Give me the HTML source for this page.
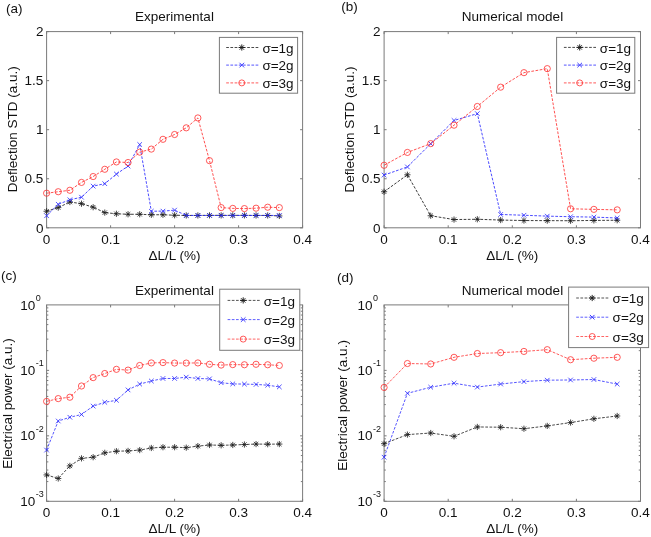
<!DOCTYPE html>
<html><head><meta charset="utf-8"><style>
html,body{margin:0;padding:0;background:#fff;}
body{width:651px;height:537px;overflow:hidden;}
svg{display:block;filter:blur(0.45px);}
</style></head><body>
<svg width="651" height="537" viewBox="0 0 651 537" font-family='"Liberation Sans", sans-serif' fill="#111">
<rect width="651" height="537" fill="#fff"/>
<path d="M46.60 227.79999999999998V225.29999999999998M46.60 31.6V34.1M110.60 227.79999999999998V225.29999999999998M110.60 31.6V34.1M174.60 227.79999999999998V225.29999999999998M174.60 31.6V34.1M238.60 227.79999999999998V225.29999999999998M238.60 31.6V34.1M302.60 227.79999999999998V225.29999999999998M302.60 31.6V34.1M46.6 227.80H49.1M302.6 227.80H300.1M46.6 178.75H49.1M302.6 178.75H300.1M46.6 129.70H49.1M302.6 129.70H300.1M46.6 80.65H49.1M302.6 80.65H300.1M46.6 31.60H49.1M302.6 31.60H300.1" stroke="#7a7a7a" stroke-width="1" fill="none"/>
<rect x="46.6" y="31.6" width="256.00" height="196.20" stroke="#7a7a7a" stroke-width="1" fill="none"/>
<path d="M46.60 211.23L58.24 207.61L69.87 202.02L81.51 203.69L93.15 207.21L104.78 212.60L116.42 213.78L128.05 214.27L139.69 214.27L151.33 214.76L162.96 214.76L174.60 215.25L186.24 215.45L197.87 215.45L209.51 215.35L221.15 215.35L232.78 215.35L244.42 215.35L256.05 215.45L267.69 215.45L279.33 215.94" stroke="#1a1a1a" stroke-width="0.85" stroke-dasharray="2.7 1.5" fill="none"/>
<path d="M43.50 211.23H49.70M46.60 208.13V214.33M44.41 209.04L48.79 213.42M44.41 213.42L48.79 209.04M55.14 207.61H61.34M58.24 204.51V210.71M56.04 205.41L60.43 209.80M56.04 209.80L60.43 205.41M66.77 202.02H72.97M69.87 198.92V205.12M67.68 199.83L72.06 204.21M67.68 204.21L72.06 199.83M78.41 203.69H84.61M81.51 200.59V206.79M79.32 201.49L83.70 205.88M79.32 205.88L83.70 201.49M90.05 207.21H96.25M93.15 204.11V210.31M90.95 205.02L95.34 209.41M90.95 209.41L95.34 205.02M101.68 212.60H107.88M104.78 209.50V215.70M102.59 210.41L106.97 214.80M102.59 214.80L106.97 210.41M113.32 213.78H119.52M116.42 210.68V216.88M114.23 211.59L118.61 215.97M114.23 215.97L118.61 211.59M124.95 214.27H131.15M128.05 211.17V217.37M125.86 212.08L130.25 216.46M125.86 216.46L130.25 212.08M136.59 214.27H142.79M139.69 211.17V217.37M137.50 212.08L141.88 216.46M137.50 216.46L141.88 212.08M148.23 214.76H154.43M151.33 211.66V217.86M149.14 212.57L153.52 216.95M149.14 216.95L153.52 212.57M159.86 214.76H166.06M162.96 211.66V217.86M160.77 212.57L165.16 216.95M160.77 216.95L165.16 212.57M171.50 215.25H177.70M174.60 212.15V218.35M172.41 213.06L176.79 217.44M172.41 217.44L176.79 213.06M183.14 215.45H189.34M186.24 212.35V218.55M184.04 213.25L188.43 217.64M184.04 217.64L188.43 213.25M194.77 215.45H200.97M197.87 212.35V218.55M195.68 213.25L200.06 217.64M195.68 217.64L200.06 213.25M206.41 215.35H212.61M209.51 212.25V218.45M207.32 213.16L211.70 217.54M207.32 217.54L211.70 213.16M218.05 215.35H224.25M221.15 212.25V218.45M218.95 213.16L223.34 217.54M218.95 217.54L223.34 213.16M229.68 215.35H235.88M232.78 212.25V218.45M230.59 213.16L234.97 217.54M230.59 217.54L234.97 213.16M241.32 215.35H247.52M244.42 212.25V218.45M242.23 213.16L246.61 217.54M242.23 217.54L246.61 213.16M252.95 215.45H259.15M256.05 212.35V218.55M253.86 213.25L258.25 217.64M253.86 217.64L258.25 213.25M264.59 215.45H270.79M267.69 212.35V218.55M265.50 213.25L269.88 217.64M265.50 217.64L269.88 213.25M276.23 215.94H282.43M279.33 212.84V219.04M277.14 213.74L281.52 218.13M277.14 218.13L281.52 213.74" stroke="#1a1a1a" stroke-width="0.8" fill="none"/>
<path d="M46.60 215.74L58.24 204.27L69.87 199.77L81.51 197.22L93.15 186.14L104.78 183.69L116.42 174.09L128.05 166.05L139.69 144.49L151.33 211.23L162.96 211.13L174.60 210.15L186.24 215.45L197.87 215.45L209.51 215.45L221.15 215.45L232.78 215.45L244.42 215.45L256.05 215.45L267.69 215.45L279.33 215.45" stroke="#2a2aff" stroke-width="0.85" stroke-dasharray="2.7 1.5" fill="none"/>
<path d="M44.30 213.44L48.90 218.04M44.30 218.04L48.90 213.44M55.94 201.97L60.54 206.57M55.94 206.57L60.54 201.97M67.57 197.47L72.17 202.07M67.57 202.07L72.17 197.47M79.21 194.92L83.81 199.52M79.21 199.52L83.81 194.92M90.85 183.84L95.45 188.44M90.85 188.44L95.45 183.84M102.48 181.39L107.08 185.99M102.48 185.99L107.08 181.39M114.12 171.79L118.72 176.39M114.12 176.39L118.72 171.79M125.75 163.75L130.35 168.35M125.75 168.35L130.35 163.75M137.39 142.19L141.99 146.79M137.39 146.79L141.99 142.19M149.03 208.93L153.63 213.53M149.03 213.53L153.63 208.93M160.66 208.83L165.26 213.43M160.66 213.43L165.26 208.83M172.30 207.85L176.90 212.45M172.30 212.45L176.90 207.85M183.94 213.15L188.54 217.75M183.94 217.75L188.54 213.15M195.57 213.15L200.17 217.75M195.57 217.75L200.17 213.15M207.21 213.15L211.81 217.75M207.21 217.75L211.81 213.15M218.85 213.15L223.45 217.75M218.85 217.75L223.45 213.15M230.48 213.15L235.08 217.75M230.48 217.75L235.08 213.15M242.12 213.15L246.72 217.75M242.12 217.75L246.72 213.15M253.75 213.15L258.35 217.75M253.75 217.75L258.35 213.15M265.39 213.15L269.99 217.75M265.39 217.75L269.99 213.15M277.03 213.15L281.63 217.75M277.03 217.75L281.63 213.15" stroke="#2a2aff" stroke-width="0.8" fill="none"/>
<path d="M46.60 193.20L58.24 191.73L69.87 190.26L81.51 182.42L93.15 176.54L104.78 169.29L116.42 161.94L128.05 162.53L139.69 152.14L151.33 149.10L162.96 139.30L174.60 134.50L186.24 127.83L197.87 117.94L209.51 160.66L221.15 207.61L232.78 208.39L244.42 208.59L256.05 208.19L267.69 207.21L279.33 207.61" stroke="#ff3030" stroke-width="0.85" stroke-dasharray="2.7 1.5" fill="none"/>
<circle cx="46.60" cy="193.20" r="3.1" stroke="#ff3030" stroke-width="0.8" fill="none"/>
<circle cx="58.24" cy="191.73" r="3.1" stroke="#ff3030" stroke-width="0.8" fill="none"/>
<circle cx="69.87" cy="190.26" r="3.1" stroke="#ff3030" stroke-width="0.8" fill="none"/>
<circle cx="81.51" cy="182.42" r="3.1" stroke="#ff3030" stroke-width="0.8" fill="none"/>
<circle cx="93.15" cy="176.54" r="3.1" stroke="#ff3030" stroke-width="0.8" fill="none"/>
<circle cx="104.78" cy="169.29" r="3.1" stroke="#ff3030" stroke-width="0.8" fill="none"/>
<circle cx="116.42" cy="161.94" r="3.1" stroke="#ff3030" stroke-width="0.8" fill="none"/>
<circle cx="128.05" cy="162.53" r="3.1" stroke="#ff3030" stroke-width="0.8" fill="none"/>
<circle cx="139.69" cy="152.14" r="3.1" stroke="#ff3030" stroke-width="0.8" fill="none"/>
<circle cx="151.33" cy="149.10" r="3.1" stroke="#ff3030" stroke-width="0.8" fill="none"/>
<circle cx="162.96" cy="139.30" r="3.1" stroke="#ff3030" stroke-width="0.8" fill="none"/>
<circle cx="174.60" cy="134.50" r="3.1" stroke="#ff3030" stroke-width="0.8" fill="none"/>
<circle cx="186.24" cy="127.83" r="3.1" stroke="#ff3030" stroke-width="0.8" fill="none"/>
<circle cx="197.87" cy="117.94" r="3.1" stroke="#ff3030" stroke-width="0.8" fill="none"/>
<circle cx="209.51" cy="160.66" r="3.1" stroke="#ff3030" stroke-width="0.8" fill="none"/>
<circle cx="221.15" cy="207.61" r="3.1" stroke="#ff3030" stroke-width="0.8" fill="none"/>
<circle cx="232.78" cy="208.39" r="3.1" stroke="#ff3030" stroke-width="0.8" fill="none"/>
<circle cx="244.42" cy="208.59" r="3.1" stroke="#ff3030" stroke-width="0.8" fill="none"/>
<circle cx="256.05" cy="208.19" r="3.1" stroke="#ff3030" stroke-width="0.8" fill="none"/>
<circle cx="267.69" cy="207.21" r="3.1" stroke="#ff3030" stroke-width="0.8" fill="none"/>
<circle cx="279.33" cy="207.61" r="3.1" stroke="#ff3030" stroke-width="0.8" fill="none"/>
<path d="M384.10 227.79999999999998V225.29999999999998M384.10 31.6V34.1M448.20 227.79999999999998V225.29999999999998M448.20 31.6V34.1M512.30 227.79999999999998V225.29999999999998M512.30 31.6V34.1M576.40 227.79999999999998V225.29999999999998M576.40 31.6V34.1M640.50 227.79999999999998V225.29999999999998M640.50 31.6V34.1M384.1 227.80H386.6M640.5 227.80H638.0M384.1 178.75H386.6M640.5 178.75H638.0M384.1 129.70H386.6M640.5 129.70H638.0M384.1 80.65H386.6M640.5 80.65H638.0M384.1 31.60H386.6M640.5 31.60H638.0" stroke="#7a7a7a" stroke-width="1" fill="none"/>
<rect x="384.1" y="31.6" width="256.40" height="196.20" stroke="#7a7a7a" stroke-width="1" fill="none"/>
<path d="M384.10 191.73L407.41 174.78L430.72 215.74L454.03 219.56L477.34 219.27L500.65 220.05L523.95 220.54L547.26 220.64L570.57 220.74L593.88 220.44L617.19 220.25" stroke="#1a1a1a" stroke-width="0.85" stroke-dasharray="2.7 1.5" fill="none"/>
<path d="M381.00 191.73H387.20M384.10 188.63V194.83M381.91 189.54L386.29 193.92M381.91 193.92L386.29 189.54M404.31 174.78H410.51M407.41 171.68V177.88M405.22 172.58L409.60 176.97M405.22 176.97L409.60 172.58M427.62 215.74H433.82M430.72 212.64V218.84M428.53 213.55L432.91 217.93M428.53 217.93L432.91 213.55M450.93 219.56H457.13M454.03 216.46V222.66M451.84 217.37L456.22 221.75M451.84 221.75L456.22 217.37M474.24 219.27H480.44M477.34 216.17V222.37M475.14 217.08L479.53 221.46M475.14 221.46L479.53 217.08M497.55 220.05H503.75M500.65 216.95V223.15M498.45 217.86L502.84 222.24M498.45 222.24L502.84 217.86M520.85 220.54H527.05M523.95 217.44V223.64M521.76 218.35L526.15 222.73M521.76 222.73L526.15 218.35M544.16 220.64H550.36M547.26 217.54V223.74M545.07 218.45L549.46 222.83M545.07 222.83L549.46 218.45M567.47 220.74H573.67M570.57 217.64V223.84M568.38 218.55L572.76 222.93M568.38 222.93L572.76 218.55M590.78 220.44H596.98M593.88 217.34V223.54M591.69 218.25L596.07 222.64M591.69 222.64L596.07 218.25M614.09 220.25H620.29M617.19 217.15V223.35M615.00 218.06L619.38 222.44M615.00 222.44L619.38 218.06" stroke="#1a1a1a" stroke-width="0.8" fill="none"/>
<path d="M384.10 175.07L407.41 166.94L430.72 143.71L454.03 120.48L477.34 113.62L500.65 214.47L523.95 215.25L547.26 216.13L570.57 216.72L593.88 217.11L617.19 217.99" stroke="#2a2aff" stroke-width="0.85" stroke-dasharray="2.7 1.5" fill="none"/>
<path d="M381.80 172.77L386.40 177.37M381.80 177.37L386.40 172.77M405.11 164.64L409.71 169.24M405.11 169.24L409.71 164.64M428.42 141.41L433.02 146.01M428.42 146.01L433.02 141.41M451.73 118.18L456.33 122.78M451.73 122.78L456.33 118.18M475.04 111.32L479.64 115.92M475.04 115.92L479.64 111.32M498.35 212.17L502.95 216.77M498.35 216.77L502.95 212.17M521.65 212.95L526.25 217.55M521.65 217.55L526.25 212.95M544.96 213.83L549.56 218.43M544.96 218.43L549.56 213.83M568.27 214.42L572.87 219.02M568.27 219.02L572.87 214.42M591.58 214.81L596.18 219.41M591.58 219.41L596.18 214.81M614.89 215.69L619.49 220.29M614.89 220.29L619.49 215.69" stroke="#2a2aff" stroke-width="0.8" fill="none"/>
<path d="M384.10 165.27L407.41 152.43L430.72 143.61L454.03 125.19L477.34 106.47L500.65 87.16L523.95 72.66L547.26 68.64L570.57 208.78L593.88 209.37L617.19 209.86" stroke="#ff3030" stroke-width="0.85" stroke-dasharray="2.7 1.5" fill="none"/>
<circle cx="384.10" cy="165.27" r="3.1" stroke="#ff3030" stroke-width="0.8" fill="none"/>
<circle cx="407.41" cy="152.43" r="3.1" stroke="#ff3030" stroke-width="0.8" fill="none"/>
<circle cx="430.72" cy="143.61" r="3.1" stroke="#ff3030" stroke-width="0.8" fill="none"/>
<circle cx="454.03" cy="125.19" r="3.1" stroke="#ff3030" stroke-width="0.8" fill="none"/>
<circle cx="477.34" cy="106.47" r="3.1" stroke="#ff3030" stroke-width="0.8" fill="none"/>
<circle cx="500.65" cy="87.16" r="3.1" stroke="#ff3030" stroke-width="0.8" fill="none"/>
<circle cx="523.95" cy="72.66" r="3.1" stroke="#ff3030" stroke-width="0.8" fill="none"/>
<circle cx="547.26" cy="68.64" r="3.1" stroke="#ff3030" stroke-width="0.8" fill="none"/>
<circle cx="570.57" cy="208.78" r="3.1" stroke="#ff3030" stroke-width="0.8" fill="none"/>
<circle cx="593.88" cy="209.37" r="3.1" stroke="#ff3030" stroke-width="0.8" fill="none"/>
<circle cx="617.19" cy="209.86" r="3.1" stroke="#ff3030" stroke-width="0.8" fill="none"/>
<path d="M46.60 501.29999999999995V498.79999999999995M46.60 304.9V307.4M110.60 501.29999999999995V498.79999999999995M110.60 304.9V307.4M174.60 501.29999999999995V498.79999999999995M174.60 304.9V307.4M238.60 501.29999999999995V498.79999999999995M238.60 304.9V307.4M302.60 501.29999999999995V498.79999999999995M302.60 304.9V307.4M46.6 501.30H49.1M302.6 501.30H300.1M46.6 481.59H48.35M302.6 481.59H300.85M46.6 470.06H48.35M302.6 470.06H300.85M46.6 461.89H48.35M302.6 461.89H300.85M46.6 455.54H48.35M302.6 455.54H300.85M46.6 450.36H48.35M302.6 450.36H300.85M46.6 445.97H48.35M302.6 445.97H300.85M46.6 442.18H48.35M302.6 442.18H300.85M46.6 438.83H48.35M302.6 438.83H300.85M46.6 435.83H49.1M302.6 435.83H300.1M46.6 416.13H48.35M302.6 416.13H300.85M46.6 404.60H48.35M302.6 404.60H300.85M46.6 396.42H48.35M302.6 396.42H300.85M46.6 390.07H48.35M302.6 390.07H300.85M46.6 384.89H48.35M302.6 384.89H300.85M46.6 380.51H48.35M302.6 380.51H300.85M46.6 376.71H48.35M302.6 376.71H300.85M46.6 373.36H48.35M302.6 373.36H300.85M46.6 370.37H49.1M302.6 370.37H300.1M46.6 350.66H48.35M302.6 350.66H300.85M46.6 339.13H48.35M302.6 339.13H300.85M46.6 330.95H48.35M302.6 330.95H300.85M46.6 324.61H48.35M302.6 324.61H300.85M46.6 319.42H48.35M302.6 319.42H300.85M46.6 315.04H48.35M302.6 315.04H300.85M46.6 311.24H48.35M302.6 311.24H300.85M46.6 307.90H48.35M302.6 307.90H300.85" stroke="#7a7a7a" stroke-width="1" fill="none"/>
<rect x="46.6" y="304.9" width="256.00" height="196.40" stroke="#7a7a7a" stroke-width="1" fill="none"/>
<path d="M46.60 474.91L58.24 478.50L69.87 465.89L81.51 458.38L93.15 457.20L104.78 452.83L116.42 451.19L128.05 450.93L139.69 450.08L151.33 447.99L162.96 447.21L174.60 447.21L186.24 447.66L197.87 446.10L209.51 444.99L221.15 445.31L232.78 444.99L244.42 444.53L256.05 444.07L267.69 444.20L279.33 444.07" stroke="#1a1a1a" stroke-width="0.8" stroke-dasharray="2.7 1.5" fill="none"/>
<path d="M43.50 474.91H49.70M46.60 471.81V478.01M44.41 472.72L48.79 477.10M44.41 477.10L48.79 472.72M55.14 478.50H61.34M58.24 475.40V481.60M56.04 476.31L60.43 480.69M56.04 480.69L60.43 476.31M66.77 465.89H72.97M69.87 462.79V468.99M67.68 463.70L72.06 468.08M67.68 468.08L72.06 463.70M78.41 458.38H84.61M81.51 455.28V461.48M79.32 456.19L83.70 460.57M79.32 460.57L83.70 456.19M90.05 457.20H96.25M93.15 454.10V460.30M90.95 455.01L95.34 459.40M90.95 459.40L95.34 455.01M101.68 452.83H107.88M104.78 449.73V455.93M102.59 450.63L106.97 455.02M102.59 455.02L106.97 450.63M113.32 451.19H119.52M116.42 448.09V454.29M114.23 449.00L118.61 453.38M114.23 453.38L118.61 449.00M124.95 450.93H131.15M128.05 447.83V454.03M125.86 448.74L130.25 453.12M125.86 453.12L130.25 448.74M136.59 450.08H142.79M139.69 446.98V453.18M137.50 447.89L141.88 452.27M137.50 452.27L141.88 447.89M148.23 447.99H154.43M151.33 444.89V451.09M149.14 445.80L153.52 450.18M149.14 450.18L153.52 445.80M159.86 447.21H166.06M162.96 444.11V450.31M160.77 445.02L165.16 449.40M160.77 449.40L165.16 445.02M171.50 447.21H177.70M174.60 444.11V450.31M172.41 445.02L176.79 449.40M172.41 449.40L176.79 445.02M183.14 447.66H189.34M186.24 444.56V450.76M184.04 445.47L188.43 449.86M184.04 449.86L188.43 445.47M194.77 446.10H200.97M197.87 443.00V449.20M195.68 443.90L200.06 448.29M195.68 448.29L200.06 443.90M206.41 444.99H212.61M209.51 441.89V448.09M207.32 442.79L211.70 447.18M207.32 447.18L211.70 442.79M218.05 445.31H224.25M221.15 442.21V448.41M218.95 443.12L223.34 447.50M218.95 447.50L223.34 443.12M229.68 444.99H235.88M232.78 441.89V448.09M230.59 442.79L234.97 447.18M230.59 447.18L234.97 442.79M241.32 444.53H247.52M244.42 441.43V447.63M242.23 442.34L246.61 446.72M242.23 446.72L246.61 442.34M252.95 444.07H259.15M256.05 440.97V447.17M253.86 441.88L258.25 446.26M253.86 446.26L258.25 441.88M264.59 444.20H270.79M267.69 441.10V447.30M265.50 442.01L269.88 446.39M265.50 446.39L269.88 442.01M276.23 444.07H282.43M279.33 440.97V447.17M277.14 441.88L281.52 446.26M277.14 446.26L281.52 441.88" stroke="#1a1a1a" stroke-width="0.8" fill="none"/>
<path d="M46.60 450.08L58.24 421.01L69.87 417.28L81.51 414.48L93.15 406.11L104.78 402.32L116.42 400.30L128.05 389.91L139.69 384.10L151.33 381.02L162.96 378.48L174.60 378.48L186.24 377.17L197.87 378.48L209.51 378.87L221.15 382.72L232.78 383.90L244.42 384.10L256.05 384.42L267.69 385.21L279.33 386.90" stroke="#2a2aff" stroke-width="0.8" stroke-dasharray="2.7 1.5" fill="none"/>
<path d="M44.30 447.78L48.90 452.38M44.30 452.38L48.90 447.78M55.94 418.71L60.54 423.31M55.94 423.31L60.54 418.71M67.57 414.98L72.17 419.58M67.57 419.58L72.17 414.98M79.21 412.18L83.81 416.78M79.21 416.78L83.81 412.18M90.85 403.81L95.45 408.41M90.85 408.41L95.45 403.81M102.48 400.02L107.08 404.62M102.48 404.62L107.08 400.02M114.12 398.00L118.72 402.60M114.12 402.60L118.72 398.00M125.75 387.61L130.35 392.21M125.75 392.21L130.35 387.61M137.39 381.80L141.99 386.40M137.39 386.40L141.99 381.80M149.03 378.72L153.63 383.32M149.03 383.32L153.63 378.72M160.66 376.18L165.26 380.78M160.66 380.78L165.26 376.18M172.30 376.18L176.90 380.78M172.30 380.78L176.90 376.18M183.94 374.87L188.54 379.47M183.94 379.47L188.54 374.87M195.57 376.18L200.17 380.78M195.57 380.78L200.17 376.18M207.21 376.57L211.81 381.17M207.21 381.17L211.81 376.57M218.85 380.42L223.45 385.02M218.85 385.02L223.45 380.42M230.48 381.60L235.08 386.20M230.48 386.20L235.08 381.60M242.12 381.80L246.72 386.40M242.12 386.40L246.72 381.80M253.75 382.12L258.35 386.72M253.75 386.72L258.35 382.12M265.39 382.91L269.99 387.51M265.39 387.51L269.99 382.91M277.03 384.60L281.63 389.20M277.03 389.20L281.63 384.60" stroke="#2a2aff" stroke-width="0.8" fill="none"/>
<path d="M46.60 401.41L58.24 398.60L69.87 397.23L81.51 385.99L93.15 377.63L104.78 373.51L116.42 369.33L128.05 370.11L139.69 365.48L151.33 362.93L162.96 362.60L174.60 363.06L186.24 363.06L197.87 362.93L209.51 364.30L221.15 365.08L232.78 364.63L244.42 364.76L256.05 364.30L267.69 364.76L279.33 365.48" stroke="#ff3030" stroke-width="0.8" stroke-dasharray="2.7 1.5" fill="none"/>
<circle cx="46.60" cy="401.41" r="3.1" stroke="#ff3030" stroke-width="0.8" fill="none"/>
<circle cx="58.24" cy="398.60" r="3.1" stroke="#ff3030" stroke-width="0.8" fill="none"/>
<circle cx="69.87" cy="397.23" r="3.1" stroke="#ff3030" stroke-width="0.8" fill="none"/>
<circle cx="81.51" cy="385.99" r="3.1" stroke="#ff3030" stroke-width="0.8" fill="none"/>
<circle cx="93.15" cy="377.63" r="3.1" stroke="#ff3030" stroke-width="0.8" fill="none"/>
<circle cx="104.78" cy="373.51" r="3.1" stroke="#ff3030" stroke-width="0.8" fill="none"/>
<circle cx="116.42" cy="369.33" r="3.1" stroke="#ff3030" stroke-width="0.8" fill="none"/>
<circle cx="128.05" cy="370.11" r="3.1" stroke="#ff3030" stroke-width="0.8" fill="none"/>
<circle cx="139.69" cy="365.48" r="3.1" stroke="#ff3030" stroke-width="0.8" fill="none"/>
<circle cx="151.33" cy="362.93" r="3.1" stroke="#ff3030" stroke-width="0.8" fill="none"/>
<circle cx="162.96" cy="362.60" r="3.1" stroke="#ff3030" stroke-width="0.8" fill="none"/>
<circle cx="174.60" cy="363.06" r="3.1" stroke="#ff3030" stroke-width="0.8" fill="none"/>
<circle cx="186.24" cy="363.06" r="3.1" stroke="#ff3030" stroke-width="0.8" fill="none"/>
<circle cx="197.87" cy="362.93" r="3.1" stroke="#ff3030" stroke-width="0.8" fill="none"/>
<circle cx="209.51" cy="364.30" r="3.1" stroke="#ff3030" stroke-width="0.8" fill="none"/>
<circle cx="221.15" cy="365.08" r="3.1" stroke="#ff3030" stroke-width="0.8" fill="none"/>
<circle cx="232.78" cy="364.63" r="3.1" stroke="#ff3030" stroke-width="0.8" fill="none"/>
<circle cx="244.42" cy="364.76" r="3.1" stroke="#ff3030" stroke-width="0.8" fill="none"/>
<circle cx="256.05" cy="364.30" r="3.1" stroke="#ff3030" stroke-width="0.8" fill="none"/>
<circle cx="267.69" cy="364.76" r="3.1" stroke="#ff3030" stroke-width="0.8" fill="none"/>
<circle cx="279.33" cy="365.48" r="3.1" stroke="#ff3030" stroke-width="0.8" fill="none"/>
<path d="M384.10 501.29999999999995V498.79999999999995M384.10 304.9V307.4M448.20 501.29999999999995V498.79999999999995M448.20 304.9V307.4M512.30 501.29999999999995V498.79999999999995M512.30 304.9V307.4M576.40 501.29999999999995V498.79999999999995M576.40 304.9V307.4M640.50 501.29999999999995V498.79999999999995M640.50 304.9V307.4M384.1 501.30H386.6M640.5 501.30H638.0M384.1 481.59H385.85M640.5 481.59H638.75M384.1 470.06H385.85M640.5 470.06H638.75M384.1 461.89H385.85M640.5 461.89H638.75M384.1 455.54H385.85M640.5 455.54H638.75M384.1 450.36H385.85M640.5 450.36H638.75M384.1 445.97H385.85M640.5 445.97H638.75M384.1 442.18H385.85M640.5 442.18H638.75M384.1 438.83H385.85M640.5 438.83H638.75M384.1 435.83H386.6M640.5 435.83H638.0M384.1 416.13H385.85M640.5 416.13H638.75M384.1 404.60H385.85M640.5 404.60H638.75M384.1 396.42H385.85M640.5 396.42H638.75M384.1 390.07H385.85M640.5 390.07H638.75M384.1 384.89H385.85M640.5 384.89H638.75M384.1 380.51H385.85M640.5 380.51H638.75M384.1 376.71H385.85M640.5 376.71H638.75M384.1 373.36H385.85M640.5 373.36H638.75M384.1 370.37H386.6M640.5 370.37H638.0M384.1 350.66H385.85M640.5 350.66H638.75M384.1 339.13H385.85M640.5 339.13H638.75M384.1 330.95H385.85M640.5 330.95H638.75M384.1 324.61H385.85M640.5 324.61H638.75M384.1 319.42H385.85M640.5 319.42H638.75M384.1 315.04H385.85M640.5 315.04H638.75M384.1 311.24H385.85M640.5 311.24H638.75M384.1 307.90H385.85M640.5 307.90H638.75" stroke="#7a7a7a" stroke-width="1" fill="none"/>
<rect x="384.1" y="304.9" width="256.40" height="196.40" stroke="#7a7a7a" stroke-width="1" fill="none"/>
<path d="M384.10 443.68L407.41 434.60L430.72 433.03L454.03 436.30L477.34 426.95L500.65 427.22L523.95 428.72L547.26 425.91L570.57 422.58L593.88 418.79L617.19 415.98" stroke="#1a1a1a" stroke-width="0.8" stroke-dasharray="2.7 1.5" fill="none"/>
<path d="M381.00 443.68H387.20M384.10 440.58V446.78M381.91 441.49L386.29 445.87M381.91 445.87L386.29 441.49M404.31 434.60H410.51M407.41 431.50V437.70M405.22 432.41L409.60 436.79M405.22 436.79L409.60 432.41M427.62 433.03H433.82M430.72 429.93V436.13M428.53 430.84L432.91 435.22M428.53 435.22L432.91 430.84M450.93 436.30H457.13M454.03 433.20V439.40M451.84 434.10L456.22 438.49M451.84 438.49L456.22 434.10M474.24 426.95H480.44M477.34 423.85V430.05M475.14 424.76L479.53 429.15M475.14 429.15L479.53 424.76M497.55 427.22H503.75M500.65 424.12V430.32M498.45 425.02L502.84 429.41M498.45 429.41L502.84 425.02M520.85 428.72H527.05M523.95 425.62V431.82M521.76 426.53L526.15 430.91M521.76 430.91L526.15 426.53M544.16 425.91H550.36M547.26 422.81V429.01M545.07 423.72L549.46 428.10M545.07 428.10L549.46 423.72M567.47 422.58H573.67M570.57 419.48V425.68M568.38 420.38L572.76 424.77M568.38 424.77L572.76 420.38M590.78 418.79H596.98M593.88 415.69V421.89M591.69 416.60L596.07 420.98M591.69 420.98L596.07 416.60M614.09 415.98H620.29M617.19 412.88V419.08M615.00 413.79L619.38 418.17M615.00 418.17L619.38 413.79" stroke="#1a1a1a" stroke-width="0.8" fill="none"/>
<path d="M384.10 457.20L407.41 393.31L430.72 387.23L454.03 383.18L477.34 387.10L500.65 384.03L523.95 381.61L547.26 380.18L570.57 379.98L593.88 379.52L617.19 384.10" stroke="#2a2aff" stroke-width="0.8" stroke-dasharray="2.7 1.5" fill="none"/>
<path d="M381.80 454.90L386.40 459.50M381.80 459.50L386.40 454.90M405.11 391.01L409.71 395.61M405.11 395.61L409.71 391.01M428.42 384.93L433.02 389.53M428.42 389.53L433.02 384.93M451.73 380.88L456.33 385.48M451.73 385.48L456.33 380.88M475.04 384.80L479.64 389.40M475.04 389.40L479.64 384.80M498.35 381.73L502.95 386.33M498.35 386.33L502.95 381.73M521.65 379.31L526.25 383.91M521.65 383.91L526.25 379.31M544.96 377.88L549.56 382.48M544.96 382.48L549.56 377.88M568.27 377.68L572.87 382.28M568.27 382.28L572.87 377.68M591.58 377.22L596.18 381.82M591.58 381.82L596.18 377.22M614.89 381.80L619.49 386.40M614.89 386.40L619.49 381.80" stroke="#2a2aff" stroke-width="0.8" fill="none"/>
<path d="M384.10 387.43L407.41 363.52L430.72 363.97L454.03 357.31L477.34 353.52L500.65 352.67L523.95 351.43L547.26 349.67L570.57 359.73L593.88 358.22L617.19 357.31" stroke="#ff3030" stroke-width="0.8" stroke-dasharray="2.7 1.5" fill="none"/>
<circle cx="384.10" cy="387.43" r="3.1" stroke="#ff3030" stroke-width="0.8" fill="none"/>
<circle cx="407.41" cy="363.52" r="3.1" stroke="#ff3030" stroke-width="0.8" fill="none"/>
<circle cx="430.72" cy="363.97" r="3.1" stroke="#ff3030" stroke-width="0.8" fill="none"/>
<circle cx="454.03" cy="357.31" r="3.1" stroke="#ff3030" stroke-width="0.8" fill="none"/>
<circle cx="477.34" cy="353.52" r="3.1" stroke="#ff3030" stroke-width="0.8" fill="none"/>
<circle cx="500.65" cy="352.67" r="3.1" stroke="#ff3030" stroke-width="0.8" fill="none"/>
<circle cx="523.95" cy="351.43" r="3.1" stroke="#ff3030" stroke-width="0.8" fill="none"/>
<circle cx="547.26" cy="349.67" r="3.1" stroke="#ff3030" stroke-width="0.8" fill="none"/>
<circle cx="570.57" cy="359.73" r="3.1" stroke="#ff3030" stroke-width="0.8" fill="none"/>
<circle cx="593.88" cy="358.22" r="3.1" stroke="#ff3030" stroke-width="0.8" fill="none"/>
<circle cx="617.19" cy="357.31" r="3.1" stroke="#ff3030" stroke-width="0.8" fill="none"/>
<text x="43.4" y="232.5" font-size="13.5" text-anchor="end" >0</text>
<text x="43.4" y="183.45" font-size="13.5" text-anchor="end" >0.5</text>
<text x="43.4" y="134.4" font-size="13.5" text-anchor="end" >1</text>
<text x="43.4" y="85.35" font-size="13.5" text-anchor="end" >1.5</text>
<text x="43.4" y="36.3" font-size="13.5" text-anchor="end" >2</text>
<text x="380.5" y="232.5" font-size="13.5" text-anchor="end" >0</text>
<text x="380.5" y="183.45" font-size="13.5" text-anchor="end" >0.5</text>
<text x="380.5" y="134.4" font-size="13.5" text-anchor="end" >1</text>
<text x="380.5" y="85.35" font-size="13.5" text-anchor="end" >1.5</text>
<text x="380.5" y="36.3" font-size="13.5" text-anchor="end" >2</text>
<text x="35.3" y="505.9" font-size="13.5" text-anchor="end" >10</text>
<text x="35.699999999999996" y="497.1" font-size="9" text-anchor="start" >-3</text>
<text x="35.3" y="440.43" font-size="13.5" text-anchor="end" >10</text>
<text x="35.699999999999996" y="431.63" font-size="9" text-anchor="start" >-2</text>
<text x="35.3" y="374.97" font-size="13.5" text-anchor="end" >10</text>
<text x="35.699999999999996" y="366.17" font-size="9" text-anchor="start" >-1</text>
<text x="35.3" y="309.5" font-size="13.5" text-anchor="end" >10</text>
<text x="35.699999999999996" y="300.7" font-size="9" text-anchor="start" >0</text>
<text x="372.6" y="505.9" font-size="13.5" text-anchor="end" >10</text>
<text x="373.0" y="497.1" font-size="9" text-anchor="start" >-3</text>
<text x="372.6" y="440.43" font-size="13.5" text-anchor="end" >10</text>
<text x="373.0" y="431.63" font-size="9" text-anchor="start" >-2</text>
<text x="372.6" y="374.97" font-size="13.5" text-anchor="end" >10</text>
<text x="373.0" y="366.17" font-size="9" text-anchor="start" >-1</text>
<text x="372.6" y="309.5" font-size="13.5" text-anchor="end" >10</text>
<text x="373.0" y="300.7" font-size="9" text-anchor="start" >0</text>
<text x="46.6" y="243.6" font-size="13.5" text-anchor="middle" >0</text>
<text x="110.6" y="243.6" font-size="13.5" text-anchor="middle" >0.1</text>
<text x="174.6" y="243.6" font-size="13.5" text-anchor="middle" >0.2</text>
<text x="238.6" y="243.6" font-size="13.5" text-anchor="middle" >0.3</text>
<text x="302.6" y="243.6" font-size="13.5" text-anchor="middle" >0.4</text>
<text x="174.6" y="259.9" font-size="13.5" text-anchor="middle" >&#916;L/L (%)</text>
<text x="384.1" y="243.6" font-size="13.5" text-anchor="middle" >0</text>
<text x="448.2" y="243.6" font-size="13.5" text-anchor="middle" >0.1</text>
<text x="512.3" y="243.6" font-size="13.5" text-anchor="middle" >0.2</text>
<text x="576.4" y="243.6" font-size="13.5" text-anchor="middle" >0.3</text>
<text x="640.5" y="243.6" font-size="13.5" text-anchor="middle" >0.4</text>
<text x="512.3" y="259.9" font-size="13.5" text-anchor="middle" >&#916;L/L (%)</text>
<text x="46.6" y="517.1" font-size="13.5" text-anchor="middle" >0</text>
<text x="110.6" y="517.1" font-size="13.5" text-anchor="middle" >0.1</text>
<text x="174.6" y="517.1" font-size="13.5" text-anchor="middle" >0.2</text>
<text x="238.6" y="517.1" font-size="13.5" text-anchor="middle" >0.3</text>
<text x="302.6" y="517.1" font-size="13.5" text-anchor="middle" >0.4</text>
<text x="174.6" y="533.2" font-size="13.5" text-anchor="middle" >&#916;L/L (%)</text>
<text x="384.1" y="517.1" font-size="13.5" text-anchor="middle" >0</text>
<text x="448.2" y="517.1" font-size="13.5" text-anchor="middle" >0.1</text>
<text x="512.3" y="517.1" font-size="13.5" text-anchor="middle" >0.2</text>
<text x="576.4" y="517.1" font-size="13.5" text-anchor="middle" >0.3</text>
<text x="640.5" y="517.1" font-size="13.5" text-anchor="middle" >0.4</text>
<text x="512.3" y="533.2" font-size="13.5" text-anchor="middle" >&#916;L/L (%)</text>
<text x="174.5" y="21.3" font-size="13.5" text-anchor="middle" >Experimental</text>
<text x="512.5" y="21.3" font-size="13.5" text-anchor="middle" >Numerical model</text>
<text x="174.5" y="295.0" font-size="13.5" text-anchor="middle" >Experimental</text>
<text x="512.5" y="295.0" font-size="13.5" text-anchor="middle" >Numerical model</text>
<text x="6.0" y="12.8" font-size="13.5" text-anchor="start" >(a)</text>
<text x="341.2" y="11.1" font-size="13.5" text-anchor="start" >(b)</text>
<text x="0.9" y="280.4" font-size="13.5" text-anchor="start" >(c)</text>
<text x="337.0" y="281.6" font-size="13.5" text-anchor="start" >(d)</text>
<text x="0" y="0" font-size="13.5" text-anchor="middle" transform="translate(16.8 129.2) rotate(-90)">Deflection STD (a.u.)</text>
<text x="0" y="0" font-size="13.5" text-anchor="middle" transform="translate(354.1 129.5) rotate(-90)">Deflection STD (a.u.)</text>
<text x="0" y="0" font-size="13.5" text-anchor="middle" transform="translate(12.4 403.6) rotate(-90)">Electrical power (a.u.)</text>
<text x="0" y="0" font-size="13.5" text-anchor="middle" transform="translate(347.2 405.4) rotate(-90)">Electrical power (a.u.)</text>
<rect x="219.4" y="37.4" width="78.2" height="55.8" fill="#fff" stroke="#7a7a7a" stroke-width="1"/>
<path d="M226.2 47.5H259.5" stroke="#1a1a1a" stroke-width="0.8" stroke-dasharray="2.7 1.5" fill="none"/>
<path d="M238.70 47.50H244.90M241.80 44.40V50.60M239.61 45.31L243.99 49.69M239.61 49.69L243.99 45.31" stroke="#1a1a1a" stroke-width="0.95" fill="none"/>
<text x="262.4" y="52.7" font-size="13.5" text-anchor="start" >&#963;=1g</text>
<path d="M226.2 65.1H259.5" stroke="#2a2aff" stroke-width="0.8" stroke-dasharray="2.7 1.5" fill="none"/>
<path d="M239.50 62.80L244.10 67.40M239.50 67.40L244.10 62.80" stroke="#2a2aff" stroke-width="0.9" fill="none"/>
<text x="262.4" y="70.3" font-size="13.5" text-anchor="start" >&#963;=2g</text>
<path d="M226.2 82.9H259.5" stroke="#ff3030" stroke-width="0.8" stroke-dasharray="2.7 1.5" fill="none"/>
<circle cx="241.8" cy="82.9" r="3.0" stroke="#ff3030" stroke-width="0.8" fill="none"/>
<text x="262.4" y="88.10000000000001" font-size="13.5" text-anchor="start" >&#963;=3g</text>
<rect x="556.6" y="37.4" width="78.2" height="55.8" fill="#fff" stroke="#7a7a7a" stroke-width="1"/>
<path d="M563.9 47.4H596.8" stroke="#1a1a1a" stroke-width="0.8" stroke-dasharray="2.7 1.5" fill="none"/>
<path d="M576.60 47.40H582.80M579.70 44.30V50.50M577.51 45.21L581.89 49.59M577.51 49.59L581.89 45.21" stroke="#1a1a1a" stroke-width="0.95" fill="none"/>
<text x="599.8" y="52.6" font-size="13.5" text-anchor="start" >&#963;=1g</text>
<path d="M563.9 65.1H596.8" stroke="#2a2aff" stroke-width="0.8" stroke-dasharray="2.7 1.5" fill="none"/>
<path d="M577.40 62.80L582.00 67.40M577.40 67.40L582.00 62.80" stroke="#2a2aff" stroke-width="0.9" fill="none"/>
<text x="599.8" y="70.3" font-size="13.5" text-anchor="start" >&#963;=2g</text>
<path d="M563.9 82.9H596.8" stroke="#ff3030" stroke-width="0.8" stroke-dasharray="2.7 1.5" fill="none"/>
<circle cx="579.7" cy="82.9" r="3.0" stroke="#ff3030" stroke-width="0.8" fill="none"/>
<text x="599.8" y="88.10000000000001" font-size="13.5" text-anchor="start" >&#963;=3g</text>
<rect x="219.7" y="289.2" width="80.1" height="61.1" fill="#fff" stroke="#7a7a7a" stroke-width="1"/>
<path d="M227.6 300.4H260.8" stroke="#1a1a1a" stroke-width="0.75" stroke-dasharray="2.7 1.5" fill="none"/>
<path d="M240.10 300.40H246.30M243.20 297.30V303.50M241.01 298.21L245.39 302.59M241.01 302.59L245.39 298.21" stroke="#1a1a1a" stroke-width="0.95" fill="none"/>
<text x="263.7" y="305.59999999999997" font-size="13.5" text-anchor="start" >&#963;=1g</text>
<path d="M227.6 319.6H260.8" stroke="#2a2aff" stroke-width="0.75" stroke-dasharray="2.7 1.5" fill="none"/>
<path d="M240.90 317.30L245.50 321.90M240.90 321.90L245.50 317.30" stroke="#2a2aff" stroke-width="0.9" fill="none"/>
<text x="263.7" y="324.8" font-size="13.5" text-anchor="start" >&#963;=2g</text>
<path d="M227.6 339.1H260.8" stroke="#ff3030" stroke-width="0.75" stroke-dasharray="2.7 1.5" fill="none"/>
<circle cx="243.2" cy="339.1" r="3.0" stroke="#ff3030" stroke-width="0.8" fill="none"/>
<text x="263.7" y="344.3" font-size="13.5" text-anchor="start" >&#963;=3g</text>
<rect x="568.6" y="287.1" width="80.0" height="60.5" fill="#fff" stroke="#7a7a7a" stroke-width="1"/>
<path d="M576.2 298.0H609.2" stroke="#1a1a1a" stroke-width="0.75" stroke-dasharray="2.7 1.5" fill="none"/>
<path d="M589.10 298.00H595.30M592.20 294.90V301.10M590.01 295.81L594.39 300.19M590.01 300.19L594.39 295.81" stroke="#1a1a1a" stroke-width="0.95" fill="none"/>
<text x="612.6" y="303.2" font-size="13.5" text-anchor="start" >&#963;=1g</text>
<path d="M576.2 317.2H609.2" stroke="#2a2aff" stroke-width="0.75" stroke-dasharray="2.7 1.5" fill="none"/>
<path d="M589.90 314.90L594.50 319.50M589.90 319.50L594.50 314.90" stroke="#2a2aff" stroke-width="0.9" fill="none"/>
<text x="612.6" y="322.4" font-size="13.5" text-anchor="start" >&#963;=2g</text>
<path d="M576.2 336.5H609.2" stroke="#ff3030" stroke-width="0.75" stroke-dasharray="2.7 1.5" fill="none"/>
<circle cx="592.2" cy="336.5" r="3.0" stroke="#ff3030" stroke-width="0.8" fill="none"/>
<text x="612.6" y="341.7" font-size="13.5" text-anchor="start" >&#963;=3g</text>
</svg>
</body></html>
